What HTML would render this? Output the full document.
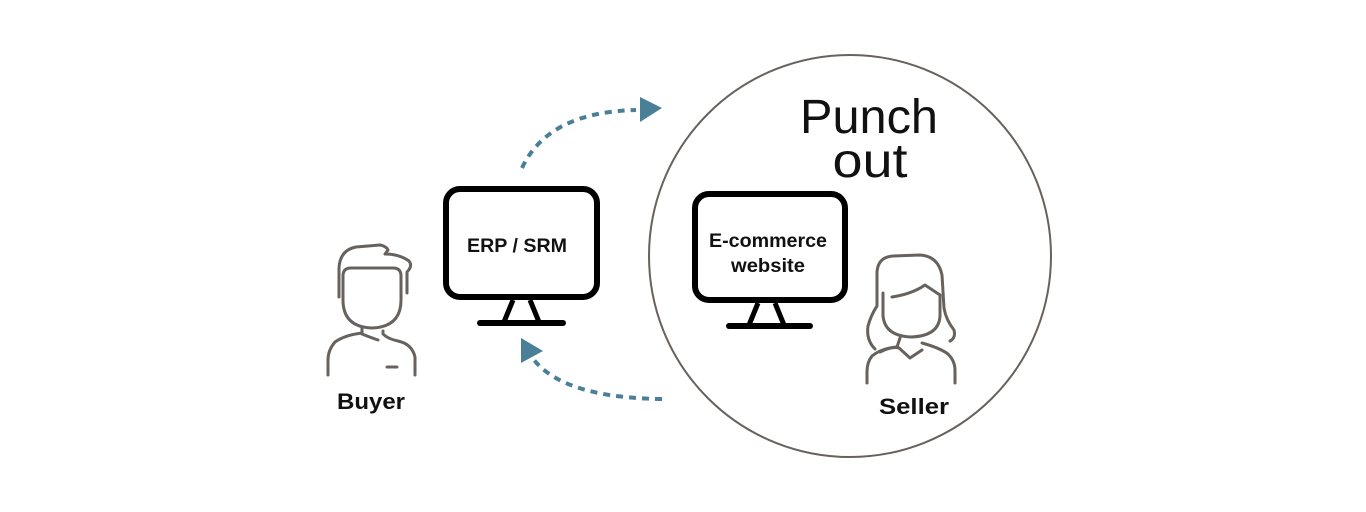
<!DOCTYPE html>
<html>
<head>
<meta charset="utf-8">
<style>
  html,body{margin:0;padding:0;background:#fff;}
  body{width:1366px;height:512px;overflow:hidden;}
  svg{display:block;}
  .lbl{font-family:"Liberation Sans",sans-serif;font-weight:bold;fill:#111;}
  .big{font-family:"Liberation Sans",sans-serif;font-weight:normal;fill:#111;}
</style>
</head>
<body>
<svg width="1366" height="512" viewBox="0 0 1366 512" xmlns="http://www.w3.org/2000/svg">
  <rect width="1366" height="512" fill="#fff"/>

  <!-- Big circle -->
  <circle cx="850" cy="256" r="201" fill="none" stroke="#67625e" stroke-width="2"/>

  <!-- Punch out -->
  <text class="big" x="869" y="133" font-size="48" text-anchor="middle" textLength="138" lengthAdjust="spacingAndGlyphs">Punch</text>
  <text class="big" x="870" y="177" font-size="48" text-anchor="middle" textLength="75" lengthAdjust="spacingAndGlyphs">out</text>

  <!-- ERP monitor -->
  <rect x="446" y="189" width="151" height="108" rx="14" ry="14" fill="#fff" stroke="#000" stroke-width="6"/>
  <path d="M513,300 L504,322 M530,300 L539,322" stroke="#000" stroke-width="5" fill="none"/>
  <line x1="480" y1="323" x2="563" y2="323" stroke="#000" stroke-width="6" stroke-linecap="round"/>
  <text class="lbl" x="517" y="252" font-size="19" text-anchor="middle" textLength="100" lengthAdjust="spacingAndGlyphs">ERP / SRM</text>

  <!-- E-commerce monitor -->
  <rect x="695" y="194" width="150" height="106" rx="14" ry="14" fill="#fff" stroke="#000" stroke-width="6"/>
  <path d="M758,303 L749,325 M775,303 L784,325" stroke="#000" stroke-width="5" fill="none"/>
  <line x1="729" y1="326" x2="810" y2="326" stroke="#000" stroke-width="6" stroke-linecap="round"/>
  <text class="lbl" x="768" y="247" font-size="19" text-anchor="middle" textLength="118" lengthAdjust="spacingAndGlyphs">E-commerce</text>
  <text class="lbl" x="768" y="272" font-size="19" text-anchor="middle" textLength="74" lengthAdjust="spacingAndGlyphs">website</text>

  <!-- Dashed arrows -->
  <path d="M522,168 Q548,112 636,110" fill="none" stroke="#4a7f98" stroke-width="4" stroke-dasharray="7,6"/>
  <polygon points="640,97 640,122 662,108" fill="#4a7f98"/>

  <path d="M662,399 Q565,398 534,360" fill="none" stroke="#4a7f98" stroke-width="4" stroke-dasharray="7,6"/>
  <polygon points="521,338 521,363 543,351" fill="#4a7f98"/>

  <!-- Buyer -->
  <g fill="none" stroke="#67625e" stroke-width="3" stroke-linecap="round" stroke-linejoin="round">
    <path d="M339,297 L339,268 Q340,250 356,247 L380,245 Q386,246 388,250 L385,254 Q399,254 409,261 Q413,266 407,272 L407,293"/>
    <path d="M351,268 L393,268 Q401,268 401,276 L401,300 Q401,327 372,328 Q343,327 343,300 L343,276 Q343,268 351,268 Z"/>
    <path d="M362,328 L362,333 Q345,335 335,342 Q328,350 328,360 L328,375"/>
    <path d="M362,334 Q372,338 378,340"/>
    <path d="M383,331 L383,334 Q388,339 398,341 Q412,344 415,357 L415,375"/>
    <path d="M387,367 L397,367"/>
  </g>
  <text class="lbl" x="371" y="409" font-size="22" text-anchor="middle" textLength="68" lengthAdjust="spacingAndGlyphs">Buyer</text>

  <!-- Seller -->
  <g fill="none" stroke="#67625e" stroke-width="3" stroke-linecap="round" stroke-linejoin="round">
    <path d="M875,349 Q866,340 868,326 Q871,315 877,306 L877,272 Q878,257 893,256 L920,255 Q938,256 942,275 L944,308 Q946,320 954,330 Q956,338 950,341"/>
    <path d="M883,293 L883,316 Q885,336 911,337 Q939,336 940,316 L940,295"/>
    <path d="M892,297 Q912,294 925,285 L940,295"/>
    <path d="M900,338 L897,347 Q882,348 872,356 Q867,362 867,372 L867,383"/>
    <path d="M880,352 Q892,346 899,348 L910,358 L922,350"/>
    <path d="M922,343 Q940,348 948,354 Q955,361 955,370 L955,383"/>
  </g>
  <text class="lbl" x="914" y="414" font-size="22" text-anchor="middle" textLength="70" lengthAdjust="spacingAndGlyphs">Seller</text>
</svg>
</body>
</html>
